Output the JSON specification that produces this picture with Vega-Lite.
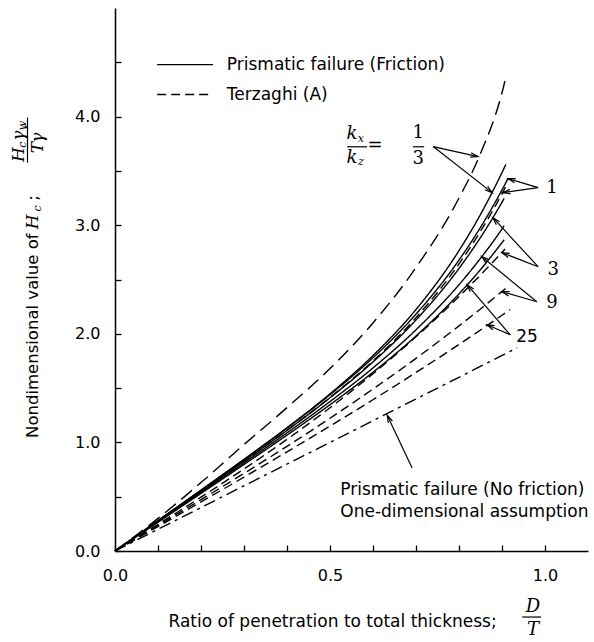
{
  "$schema": "https://vega.github.io/schema/vega-lite/v6.json",
  "autosize": {"type": "none"},
  "padding": {"left": 115, "top": 8, "right": 6, "bottom": 91},
  "width": 473,
  "height": 543,
  "background": "white",
  "config": {
    "view": {"stroke": null},
    "font": "DejaVu Sans",
    "axis": {"grid": false, "domainColor": "black", "domainWidth": 1.5, "tickColor": "black", "tickWidth": 1.3, "labelColor": "black", "labelFontSize": 16, "labelFont": "DejaVu Sans", "labelFlush": false, "title": null}
  },
  "datasets": {
    "curves": [
      {"c": "T13", "k": "t13", "x": 0, "y": 0}, {"c": "T13", "k": "t13", "x": 0.1, "y": 0.30}, {"c": "T13", "k": "t13", "x": 0.2, "y": 0.63}, {"c": "T13", "k": "t13", "x": 0.3, "y": 0.98}, {"c": "T13", "k": "t13", "x": 0.4, "y": 1.32}, {"c": "T13", "k": "t13", "x": 0.5, "y": 1.68}, {"c": "T13", "k": "t13", "x": 0.6, "y": 2.10}, {"c": "T13", "k": "t13", "x": 0.7, "y": 2.61}, {"c": "T13", "k": "t13", "x": 0.8, "y": 3.25}, {"c": "T13", "k": "t13", "x": 0.85, "y": 3.66}, {"c": "T13", "k": "t13", "x": 0.9, "y": 4.22}, {"c": "T13", "k": "t13", "x": 0.91, "y": 4.38},
      {"c": "S13", "k": "s", "x": 0, "y": 0}, {"c": "S13", "k": "s", "x": 0.1, "y": 0.280}, {"c": "S13", "k": "s", "x": 0.2, "y": 0.560}, {"c": "S13", "k": "s", "x": 0.3, "y": 0.843}, {"c": "S13", "k": "s", "x": 0.4, "y": 1.135}, {"c": "S13", "k": "s", "x": 0.5, "y": 1.447}, {"c": "S13", "k": "s", "x": 0.6, "y": 1.800}, {"c": "S13", "k": "s", "x": 0.7, "y": 2.224}, {"c": "S13", "k": "s", "x": 0.8, "y": 2.766}, {"c": "S13", "k": "s", "x": 0.85, "y": 3.099}, {"c": "S13", "k": "s", "x": 0.9, "y": 3.485}, {"c": "S13", "k": "s", "x": 0.909, "y": 3.56},
      {"c": "S1", "k": "s", "x": 0, "y": 0}, {"c": "S1", "k": "s", "x": 0.1, "y": 0.280}, {"c": "S1", "k": "s", "x": 0.2, "y": 0.560}, {"c": "S1", "k": "s", "x": 0.3, "y": 0.843}, {"c": "S1", "k": "s", "x": 0.4, "y": 1.132}, {"c": "S1", "k": "s", "x": 0.5, "y": 1.439}, {"c": "S1", "k": "s", "x": 0.6, "y": 1.780}, {"c": "S1", "k": "s", "x": 0.7, "y": 2.181}, {"c": "S1", "k": "s", "x": 0.8, "y": 2.679}, {"c": "S1", "k": "s", "x": 0.85, "y": 2.980}, {"c": "S1", "k": "s", "x": 0.9, "y": 3.325}, {"c": "S1", "k": "s", "x": 0.914, "y": 3.43},
      {"c": "T1", "k": "t", "x": 0, "y": 0}, {"c": "T1", "k": "t", "x": 0.1, "y": 0.275}, {"c": "T1", "k": "t", "x": 0.2, "y": 0.550}, {"c": "T1", "k": "t", "x": 0.3, "y": 0.828}, {"c": "T1", "k": "t", "x": 0.4, "y": 1.112}, {"c": "T1", "k": "t", "x": 0.5, "y": 1.414}, {"c": "T1", "k": "t", "x": 0.6, "y": 1.751}, {"c": "T1", "k": "t", "x": 0.7, "y": 2.148}, {"c": "T1", "k": "t", "x": 0.8, "y": 2.644}, {"c": "T1", "k": "t", "x": 0.85, "y": 2.944}, {"c": "T1", "k": "t", "x": 0.9, "y": 3.289}, {"c": "T1", "k": "t", "x": 0.908, "y": 3.35},
      {"c": "S3", "k": "s", "x": 0, "y": 0}, {"c": "S3", "k": "s", "x": 0.1, "y": 0.275}, {"c": "S3", "k": "s", "x": 0.2, "y": 0.550}, {"c": "S3", "k": "s", "x": 0.3, "y": 0.828}, {"c": "S3", "k": "s", "x": 0.4, "y": 1.111}, {"c": "S3", "k": "s", "x": 0.5, "y": 1.411}, {"c": "S3", "k": "s", "x": 0.6, "y": 1.741}, {"c": "S3", "k": "s", "x": 0.7, "y": 2.127}, {"c": "S3", "k": "s", "x": 0.8, "y": 2.602}, {"c": "S3", "k": "s", "x": 0.85, "y": 2.887}, {"c": "S3", "k": "s", "x": 0.9, "y": 3.212}, {"c": "S3", "k": "s", "x": 0.905, "y": 3.247},
      {"c": "S9", "k": "s", "x": 0, "y": 0}, {"c": "S9", "k": "s", "x": 0.1, "y": 0.270}, {"c": "S9", "k": "s", "x": 0.2, "y": 0.540}, {"c": "S9", "k": "s", "x": 0.3, "y": 0.812}, {"c": "S9", "k": "s", "x": 0.4, "y": 1.088}, {"c": "S9", "k": "s", "x": 0.5, "y": 1.376}, {"c": "S9", "k": "s", "x": 0.6, "y": 1.686}, {"c": "S9", "k": "s", "x": 0.7, "y": 2.037}, {"c": "S9", "k": "s", "x": 0.8, "y": 2.452}, {"c": "S9", "k": "s", "x": 0.85, "y": 2.695}, {"c": "S9", "k": "s", "x": 0.9, "y": 2.966}, {"c": "S9", "k": "s", "x": 0.905, "y": 2.996},
      {"c": "S25", "k": "s", "x": 0, "y": 0}, {"c": "S25", "k": "s", "x": 0.1, "y": 0.265}, {"c": "S25", "k": "s", "x": 0.2, "y": 0.530}, {"c": "S25", "k": "s", "x": 0.3, "y": 0.797}, {"c": "S25", "k": "s", "x": 0.4, "y": 1.067}, {"c": "S25", "k": "s", "x": 0.5, "y": 1.347}, {"c": "S25", "k": "s", "x": 0.6, "y": 1.646}, {"c": "S25", "k": "s", "x": 0.7, "y": 1.980}, {"c": "S25", "k": "s", "x": 0.8, "y": 2.368}, {"c": "S25", "k": "s", "x": 0.85, "y": 2.591}, {"c": "S25", "k": "s", "x": 0.9, "y": 2.840}, {"c": "S25", "k": "s", "x": 0.905, "y": 2.866},
      {"c": "T3", "k": "t", "x": 0, "y": 0}, {"c": "T3", "k": "t", "x": 0.1, "y": 0.246}, {"c": "T3", "k": "t", "x": 0.2, "y": 0.496}, {"c": "T3", "k": "t", "x": 0.3, "y": 0.755}, {"c": "T3", "k": "t", "x": 0.4, "y": 1.028}, {"c": "T3", "k": "t", "x": 0.5, "y": 1.319}, {"c": "T3", "k": "t", "x": 0.6, "y": 1.632}, {"c": "T3", "k": "t", "x": 0.7, "y": 1.972}, {"c": "T3", "k": "t", "x": 0.8, "y": 2.343}, {"c": "T3", "k": "t", "x": 0.85, "y": 2.542}, {"c": "T3", "k": "t", "x": 0.9, "y": 2.750}, {"c": "T3", "k": "t", "x": 0.907, "y": 2.780},
      {"c": "T9", "k": "t", "x": 0, "y": 0}, {"c": "T9", "k": "t", "x": 0.1, "y": 0.235}, {"c": "T9", "k": "t", "x": 0.2, "y": 0.473}, {"c": "T9", "k": "t", "x": 0.3, "y": 0.715}, {"c": "T9", "k": "t", "x": 0.4, "y": 0.964}, {"c": "T9", "k": "t", "x": 0.5, "y": 1.222}, {"c": "T9", "k": "t", "x": 0.6, "y": 1.491}, {"c": "T9", "k": "t", "x": 0.7, "y": 1.774}, {"c": "T9", "k": "t", "x": 0.8, "y": 2.073}, {"c": "T9", "k": "t", "x": 0.85, "y": 2.229}, {"c": "T9", "k": "t", "x": 0.9, "y": 2.390}, {"c": "T9", "k": "t", "x": 0.912, "y": 2.429},
      {"c": "T25", "k": "t", "x": 0, "y": 0}, {"c": "T25", "k": "t", "x": 0.1, "y": 0.225}, {"c": "T25", "k": "t", "x": 0.2, "y": 0.452}, {"c": "T25", "k": "t", "x": 0.3, "y": 0.680}, {"c": "T25", "k": "t", "x": 0.4, "y": 0.913}, {"c": "T25", "k": "t", "x": 0.5, "y": 1.150}, {"c": "T25", "k": "t", "x": 0.6, "y": 1.393}, {"c": "T25", "k": "t", "x": 0.7, "y": 1.644}, {"c": "T25", "k": "t", "x": 0.8, "y": 1.902}, {"c": "T25", "k": "t", "x": 0.85, "y": 2.035}, {"c": "T25", "k": "t", "x": 0.9, "y": 2.171}, {"c": "T25", "k": "t", "x": 0.919, "y": 2.223},
      {"c": "D1", "k": "d", "x": 0, "y": 0}, {"c": "D1", "k": "d", "x": 0.5, "y": 1.0}, {"c": "D1", "k": "d", "x": 0.935, "y": 1.87},
      {"c": "L1", "k": "s", "x": 0.098, "y": 4.479}, {"c": "L1", "k": "s", "x": 0.228, "y": 4.479},
      {"c": "L2", "k": "t", "x": 0.098, "y": 4.203}, {"c": "L2", "k": "t", "x": 0.228, "y": 4.203}
    ],
    "segs": [
      {"x": 0.740, "y": 3.724, "x2": 0.844, "y2": 3.632, "h": 1},
      {"x": 0.740, "y": 3.724, "x2": 0.877, "y2": 3.300, "h": 1},
      {"x": 0.984, "y": 3.346, "x2": 0.914, "y2": 3.429, "h": 1},
      {"x": 0.984, "y": 3.346, "x2": 0.902, "y2": 3.300, "h": 1},
      {"x": 0.984, "y": 2.618, "x2": 0.879, "y2": 3.069, "h": 1},
      {"x": 0.984, "y": 2.618, "x2": 0.900, "y2": 2.747, "h": 1},
      {"x": 0.981, "y": 2.295, "x2": 0.853, "y2": 2.710, "h": 1},
      {"x": 0.981, "y": 2.295, "x2": 0.900, "y2": 2.387, "h": 1},
      {"x": 0.919, "y": 1.991, "x2": 0.819, "y2": 2.452, "h": 1},
      {"x": 0.919, "y": 1.991, "x2": 0.865, "y2": 2.083, "h": 1},
      {"x": 0.691, "y": 0.765, "x2": 0.633, "y2": 1.25, "h": 1},
      {"x": 0.540, "y": 3.722, "x2": 0.586, "y2": 3.722, "h": 0},
      {"x": 0.693, "y": 3.722, "x2": 0.719, "y2": 3.722, "h": 0},
      {"x": 0.947, "y": -0.608, "x2": 0.991, "y2": -0.608, "h": 0},
      {"x": -0.2035, "y": 3.991, "x2": -0.2035, "y2": 3.576, "h": 0}
    ],
    "texts": [
      {"g": "A", "t": "Prismatic failure (Friction)", "x": 0.26, "y": 4.479},
      {"g": "A", "t": "Terzaghi (A)", "x": 0.26, "y": 4.203},
      {"g": "A", "t": "Prismatic failure (No friction)", "x": 0.524, "y": 0.562},
      {"g": "A", "t": "One-dimensional assumption", "x": 0.524, "y": 0.359},
      {"g": "B", "t": "Ratio of penetration to total thickness;", "x": 0.506, "y": -0.654},
      {"g": "B", "t": "25", "x": 0.958, "y": 1.972},
      {"g": "C", "t": "Nondimensional value of", "x": -0.191, "y": 1.041},
      {"g": "C2", "t": ";", "x": -0.191, "y": 3.25},
      {"g": "D", "t": "D", "x": 0.972, "y": -0.516},
      {"g": "D", "t": "T", "x": 0.972, "y": -0.728},
      {"g": "D", "t": "k", "x": 0.551, "y": 3.843},
      {"g": "D", "t": "k", "x": 0.551, "y": 3.622},
      {"g": "E", "t": "x", "x": 0.572, "y": 3.797},
      {"g": "E", "t": "z", "x": 0.572, "y": 3.579},
      {"g": "F", "t": "1", "x": 0.705, "y": 3.853},
      {"g": "F", "t": "3", "x": 0.705, "y": 3.613},
      {"g": "F", "t": "=", "x": 0.605, "y": 3.733},
      {"g": "F", "t": "1", "x": 1.016, "y": 3.346},
      {"g": "F", "t": "3", "x": 1.019, "y": 2.590},
      {"g": "F", "t": "9", "x": 1.016, "y": 2.286},
      {"g": "G", "t": "H", "x": -0.191, "y": 3.032},
      {"g": "G", "t": "H", "x": -0.223, "y": 3.650},
      {"g": "G", "t": "γ", "x": -0.223, "y": 3.825},
      {"g": "G", "t": "T", "x": -0.179, "y": 3.714},
      {"g": "G", "t": "γ", "x": -0.179, "y": 3.806},
      {"g": "H", "t": "c", "x": -0.178, "y": 3.155},
      {"g": "H", "t": "c", "x": -0.214, "y": 3.742},
      {"g": "H", "t": "w", "x": -0.214, "y": 3.917},
      {"g": "P", "t": "′", "x": -0.19, "y": 3.905}
    ]
  },
  "layer": [
    {
      "data": {"name": "curves"},
      "mark": {"type": "line", "color": "black", "strokeWidth": 1.4, "interpolate": "monotone"},
      "encoding": {
        "x": {"field": "x", "type": "quantitative", "scale": {"domain": [0, 1.1], "nice": false},
          "axis": {"values": [0, 0.1, 0.2, 0.3, 0.4, 0.5, 0.6, 0.7, 0.8, 0.9, 1], "tickSize": -6, "labelPadding": 22, "labelExpr": "datum.value === 0 || datum.value === 0.5 || datum.value === 1 ? format(datum.value, '.1f') : ''"}},
        "y": {"field": "y", "type": "quantitative", "scale": {"domain": [0, 5], "nice": false},
          "axis": {"values": [0, 0.5, 1, 1.5, 2, 2.5, 3, 3.5, 4, 4.5], "tickSize": -6, "labelPadding": 21, "labelExpr": "datum.value % 1 === 0 ? format(datum.value, '.1f') : ''"}},
        "detail": {"field": "c"},
        "strokeDash": {"field": "k", "type": "nominal", "legend": null,
          "scale": {"domain": ["s", "t", "t13", "d"], "range": [[1, 0], [9, 5], [14, 7], [12, 5, 3, 5]]}}
      }
    },
    {
      "data": {"name": "segs"},
      "mark": {"type": "rule", "color": "black", "strokeWidth": 1.2},
      "encoding": {
        "x": {"field": "x", "type": "quantitative"},
        "y": {"field": "y", "type": "quantitative"},
        "x2": {"field": "x2"},
        "y2": {"field": "y2"}
      }
    },
    {
      "data": {"name": "segs"},
      "transform": [
        {"filter": "datum.h === 1"},
        {"calculate": "atan2((datum.x2 - datum.x) * 430, (datum.y2 - datum.y) * 108.5) * 180 / PI", "as": "ang"}
      ],
      "mark": {"type": "point", "shape": "M-0.3,1L0,0L0.3,1", "filled": false, "stroke": "black", "strokeWidth": 1.2, "size": 220, "opacity": 1},
      "encoding": {
        "x": {"field": "x2", "type": "quantitative"},
        "y": {"field": "y2", "type": "quantitative"},
        "angle": {"field": "ang", "type": "quantitative", "scale": null}
      }
    },
    {
      "data": {"name": "texts"},
      "transform": [{"filter": "datum.g === 'A'"}],
      "mark": {"type": "text", "font": "DejaVu Sans", "fontSize": 17, "align": "left", "baseline": "middle", "color": "black"},
      "encoding": {"x": {"field": "x", "type": "quantitative"}, "y": {"field": "y", "type": "quantitative"}, "text": {"field": "t"}}
    },
    {
      "data": {"name": "texts"},
      "transform": [{"filter": "datum.g === 'B'"}],
      "mark": {"type": "text", "font": "DejaVu Sans", "fontSize": 17, "align": "center", "baseline": "middle", "color": "black"},
      "encoding": {"x": {"field": "x", "type": "quantitative"}, "y": {"field": "y", "type": "quantitative"}, "text": {"field": "t"}}
    },
    {
      "data": {"name": "texts"},
      "transform": [{"filter": "datum.g === 'C'"}],
      "mark": {"type": "text", "font": "DejaVu Sans", "fontSize": 16.5, "align": "left", "baseline": "middle", "angle": 270, "color": "black"},
      "encoding": {"x": {"field": "x", "type": "quantitative"}, "y": {"field": "y", "type": "quantitative"}, "text": {"field": "t"}}
    },
    {
      "data": {"name": "texts"},
      "transform": [{"filter": "datum.g === 'C2'"}],
      "mark": {"type": "text", "font": "DejaVu Sans", "fontSize": 16.5, "align": "center", "baseline": "middle", "angle": 270, "color": "black"},
      "encoding": {"x": {"field": "x", "type": "quantitative"}, "y": {"field": "y", "type": "quantitative"}, "text": {"field": "t"}}
    },
    {
      "data": {"name": "texts"},
      "transform": [{"filter": "datum.g === 'D'"}],
      "mark": {"type": "text", "font": "DejaVu Serif", "fontStyle": "italic", "fontSize": 18, "align": "center", "baseline": "middle", "color": "black"},
      "encoding": {"x": {"field": "x", "type": "quantitative"}, "y": {"field": "y", "type": "quantitative"}, "text": {"field": "t"}}
    },
    {
      "data": {"name": "texts"},
      "transform": [{"filter": "datum.g === 'E'"}],
      "mark": {"type": "text", "font": "DejaVu Serif", "fontStyle": "italic", "fontSize": 11, "align": "center", "baseline": "middle", "color": "black"},
      "encoding": {"x": {"field": "x", "type": "quantitative"}, "y": {"field": "y", "type": "quantitative"}, "text": {"field": "t"}}
    },
    {
      "data": {"name": "texts"},
      "transform": [{"filter": "datum.g === 'F'"}],
      "mark": {"type": "text", "font": "DejaVu Serif", "fontSize": 18, "align": "center", "baseline": "middle", "color": "black"},
      "encoding": {"x": {"field": "x", "type": "quantitative"}, "y": {"field": "y", "type": "quantitative"}, "text": {"field": "t"}}
    },
    {
      "data": {"name": "texts"},
      "transform": [{"filter": "datum.g === 'G'"}],
      "mark": {"type": "text", "font": "DejaVu Serif", "fontStyle": "italic", "fontSize": 17, "align": "center", "baseline": "middle", "angle": 270, "color": "black"},
      "encoding": {"x": {"field": "x", "type": "quantitative"}, "y": {"field": "y", "type": "quantitative"}, "text": {"field": "t"}}
    },
    {
      "data": {"name": "texts"},
      "transform": [{"filter": "datum.g === 'H'"}],
      "mark": {"type": "text", "font": "DejaVu Serif", "fontStyle": "italic", "fontSize": 11, "align": "center", "baseline": "middle", "angle": 270, "color": "black"},
      "encoding": {"x": {"field": "x", "type": "quantitative"}, "y": {"field": "y", "type": "quantitative"}, "text": {"field": "t"}}
    },
    {
      "data": {"name": "texts"},
      "transform": [{"filter": "datum.g === 'P'"}],
      "mark": {"type": "text", "font": "DejaVu Sans", "fontSize": 18, "fontWeight": "bold", "align": "center", "baseline": "middle", "angle": 270, "color": "black"},
      "encoding": {"x": {"field": "x", "type": "quantitative"}, "y": {"field": "y", "type": "quantitative"}, "text": {"field": "t"}}
    }
  ]
}
